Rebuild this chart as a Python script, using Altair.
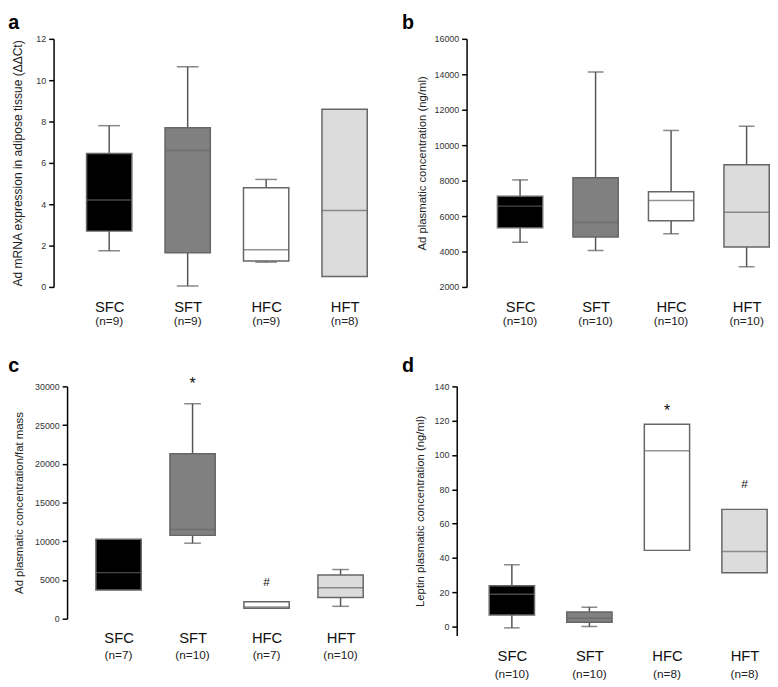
import altair as alt
import pandas as pd

FONT = "Liberation Sans"

groups = ["SFC", "SFT", "HFC", "HFT"]
fills = ["#000000", "#808080", "#ffffff", "#dcdcdc"]

# Panel a: Ad mRNA expression in adipose tissue
a_n = ["(n=9)", "(n=9)", "(n=9)", "(n=8)"]
a_low = [1.75, 0.05, 1.2, None]
a_q1 = [2.7, 1.65, 1.25, 0.5]
a_med = [4.2, 6.6, 1.8, 3.7]
a_q3 = [6.45, 7.7, 4.8, 8.6]
a_high = [7.8, 10.65, 5.2, None]
a_ticks = [0, 2, 4, 6, 8, 10, 12]

# Panel b: Ad plasmatic concentration
b_n = ["(n=10)", "(n=10)", "(n=10)", "(n=10)"]
b_low = [4520, 4060, 5000, 3140]
b_q1 = [5333, 4815, 5740, 4250]
b_med = [6560, 5630, 6880, 6210]
b_q3 = [7120, 8160, 7370, 8900]
b_high = [8040, 14130, 10830, 11070]
b_ticks = [2000, 4000, 6000, 8000, 10000, 12000, 14000, 16000]

# Panel c: Ad plasmatic concentration / fat mass
c_n = ["(n=7)", "(n=10)", "(n=7)", "(n=10)"]
c_low = [None, 9750, None, 1600]
c_q1 = [3710, 10760, 1350, 2730]
c_med = [5950, 11520, 1500, 4010]
c_q3 = [10250, 21300, 2200, 5650]
c_high = [None, 27760, None, 6350]
c_ticks = [0, 5000, 10000, 15000, 20000, 25000, 30000]
c_ann_group = ["SFT", "HFC"]
c_ann_text = ["*", "#"]
c_ann_value = [30350, 4770]

# Panel d: Leptin plasmatic concentration
d_n = ["(n=10)", "(n=10)", "(n=8)", "(n=8)"]
d_low = [-0.8, 0.0, None, None]
d_q1 = [6.7, 2.5, 44.4, 31.3]
d_med = [18.8, 4.8, 102.5, 43.8]
d_q3 = [23.8, 8.5, 117.9, 68.3]
d_high = [36.0, 11.3, None, None]
d_ticks = [0, 20, 40, 60, 80, 100, 120, 140]
d_ann_group = ["HFC", "HFT"]
d_ann_text = ["*", "#"]
d_ann_value = [125.8, 82.8]

ann_sizes = {"*": 16, "#": 12}


def panel(letter, n, low, q1, med, q3, high, title, title_size, domain, ticks,
          width, height, pad, align, axis_offset, title_x, label_pad, n_off,
          letter_x, letter_y, cap, ann_group=None, ann_text=None, ann_value=None):
    df = pd.DataFrame({"group": groups, "n": n, "low": low, "q1": q1, "med": med,
                       "q3": q3, "high": high, "fill": fills})
    x = alt.X("group:N", sort=groups,
              scale=alt.Scale(type="point", padding=pad, align=align),
              axis=alt.Axis(title=None, domain=False, ticks=False, tickSize=0,
                            labelAngle=0, labelFontSize=15, labelFont=FONT,
                            labelColor="#111111", labelPadding=label_pad))
    yscale = alt.Scale(domain=domain, nice=False, zero=False)
    yaxis = alt.Axis(title=title, values=ticks, format="d", grid=False,
                     offset=axis_offset,
                     domainColor="#000000", domainWidth=1.5, tickColor="#000000",
                     tickWidth=1.5, tickSize=5, labelFontSize=9, labelColor="#333333",
                     labelFont=FONT, labelPadding=3, titleFont=FONT,
                     titleFontSize=title_size, titleFontWeight="normal",
                     titleColor="#222222", titleX=title_x)

    def Y(field):
        return alt.Y(field, type="quantitative", scale=yscale, axis=yaxis)

    base = alt.Chart(df)
    wlow = base.mark_rule(color="#555555", strokeWidth=1.5).transform_filter(
        "isValid(datum.low)").encode(x=x, y=Y("low"), y2="q1")
    whigh = base.mark_rule(color="#555555", strokeWidth=1.5).transform_filter(
        "isValid(datum.high)").encode(x=x, y=Y("high"), y2="q3")
    clow = base.mark_tick(size=cap, thickness=1.5, color="#555555").transform_filter(
        "isValid(datum.low)").encode(x=x, y=Y("low"))
    chigh = base.mark_tick(size=cap, thickness=1.5, color="#555555").transform_filter(
        "isValid(datum.high)").encode(x=x, y=Y("high"))
    box = base.mark_bar(size=46, stroke="#666666", strokeWidth=1.5).encode(
        x=x, y=Y("q1"), y2="q3", fill=alt.Fill("fill:N", scale=None))
    medt = base.mark_tick(size=46, thickness=1.5, color="#666666").encode(x=x, y=Y("med"))
    ntext = base.mark_text(fontSize=12, font=FONT, color="#222222",
                           baseline="alphabetic").encode(
        x=x, y=alt.value(height + n_off), text="n:N")
    let = alt.Chart(pd.DataFrame({"t": [letter]})).mark_text(
        fontSize=20, fontWeight="bold", font=FONT, color="#000000",
        align="left", baseline="alphabetic").encode(
        x=alt.value(letter_x), y=alt.value(letter_y), text="t:N")
    layers = [wlow, whigh, clow, chigh, box, medt, ntext, let]
    if ann_group:
        adf = pd.DataFrame({"group": ann_group, "v": ann_value, "s": ann_text,
                            "fs": [ann_sizes[t] for t in ann_text]})
        ann = alt.Chart(adf).mark_text(font=FONT, color="#111111", baseline="middle").encode(
            x=x, y=Y("v"), text="s:N", size=alt.Size("fs:Q", scale=None))
        layers.append(ann)
    return alt.layer(*layers).properties(width=width, height=height)


pa = panel("a", a_n, a_low, a_q1, a_med, a_q3, a_high,
           "Ad mRNA expression in adipose tissue (\u0394\u0394Ct)", 12.2, [0, 12], a_ticks,
           330, 252, 0.570, 0.4708, 13.7, -30, 13, 39, -59.7, -10, 22)
pb = panel("b", b_n, b_low, b_q1, b_med, b_q3, b_high,
           "Ad plasmatic concentration (ng/ml)", 11.5, [2000, 16000], b_ticks,
           302, 252, 0.4687, 0.7557, 0, -40, 13, 39, -65.5, -10, 16)
pc = panel("c", c_n, c_low, c_q1, c_med, c_q3, c_high,
           "Ad plasmatic concentration/fat mass", 11.5, [0, 30000], c_ticks,
           330, 236, 0.695, 0.5005, 0, -43, 12, 41, -59.7, -15, 17,
           c_ann_group, c_ann_text, c_ann_value)
pd_ = panel("d", d_n, d_low, d_q1, d_med, d_q3, d_high,
            "Leptin plasmatic concentration (ng/ml)", 11.5, [-5.2, 140], d_ticks,
            300, 253, 0.4042, 0.7223, 10, -32, 13.7, 43, -65.5, -15, 16,
            d_ann_group, d_ann_text, d_ann_value)

chart = alt.concat(pa, pb, pc, pd_, columns=2, bounds="flush",
                   spacing={"row": 101, "column": 75.8}).properties(
    padding=0, background="white"
).configure_view(stroke=None)

chart.save("out.html", embed_options={"renderer": "svg", "actions": False})
